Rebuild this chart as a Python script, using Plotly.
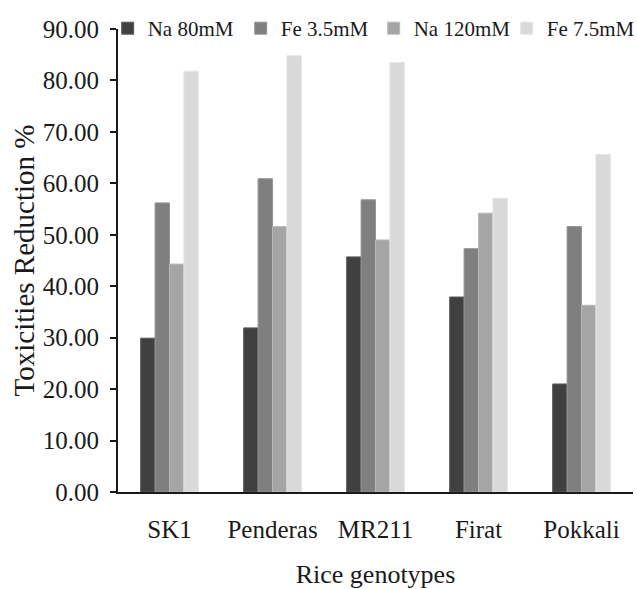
import plotly.graph_objects as go

categories = ["SK1", "Penderas", "MR211", "Firat", "Pokkali"]
series_names = ["Na 80mM", "Fe 3.5mM", "Na 120mM", "Fe 7.5mM"]
na_80 = [29.9, 31.9, 45.7, 37.9, 21.0]
fe_35 = [56.2, 60.9, 56.8, 47.3, 51.6]
na_120 = [44.3, 51.6, 49.0, 54.2, 36.3]
fe_75 = [81.8, 84.8, 83.5, 57.1, 65.6]
y_ticks = [0, 10, 20, 30, 40, 50, 60, 70, 80, 90]

colors = ["#404040", "#7f7f7f", "#a5a5a5", "#d9d9d9"]
edges = ["#5a5a5a", "#959595", "#b8b8b8", "#e4e4e4"]
FONT = "Liberation Serif, Times New Roman, serif"

fig = go.Figure()
for name, vals, c, e in zip(series_names, [na_80, fe_35, na_120, fe_75], colors, edges):
    fig.add_trace(go.Bar(
        x=categories, y=vals, name=name,
        marker=dict(color=c, line=dict(color=e, width=1)),
    ))

fig.update_layout(
    width=637, height=589,
    margin=dict(l=118, r=4, t=29, b=97, autoexpand=False),
    paper_bgcolor="white", plot_bgcolor="white",
    barmode="group", bargap=0.44, bargroupgap=0,
    font=dict(family=FONT, color="#1a1a1a"),
    showlegend=True,
    legend=dict(
        orientation="h", x=-0.020, xanchor="left", y=1.001, yanchor="middle",
        font=dict(family=FONT, size=21, color="#1a1a1a"),
        bgcolor="rgba(0,0,0,0)", itemwidth=30, traceorder="normal",
        entrywidth=88, entrywidthmode="pixels",
    ),
    xaxis=dict(
        showline=True, linecolor="#1a1a1a", linewidth=2,
        ticks="", showgrid=False, zeroline=False,
        tickfont=dict(family=FONT, size=25, color="#1a1a1a"),
        ticklabelstandoff=14,
        title=dict(text="Rice genotypes", font=dict(family=FONT, size=26, color="#1a1a1a"), standoff=27),
    ),
    yaxis=dict(
        range=[0, 90], tickvals=y_ticks, tickformat=".2f",
        showline=True, linecolor="#1a1a1a", linewidth=2,
        ticks="outside", ticklen=6, tickwidth=2, tickcolor="#1a1a1a",
        showgrid=False, zeroline=False,
        tickfont=dict(family=FONT, size=25, color="#1a1a1a"),
        ticklabelstandoff=6,
        title=dict(text="Toxicities Reduction %", font=dict(family=FONT, size=29, color="#1a1a1a"), standoff=0),
    ),
)

fig.write_html("out.html", config={"displayModeBar": False},
               post_script="document.body.style.margin='0';")
